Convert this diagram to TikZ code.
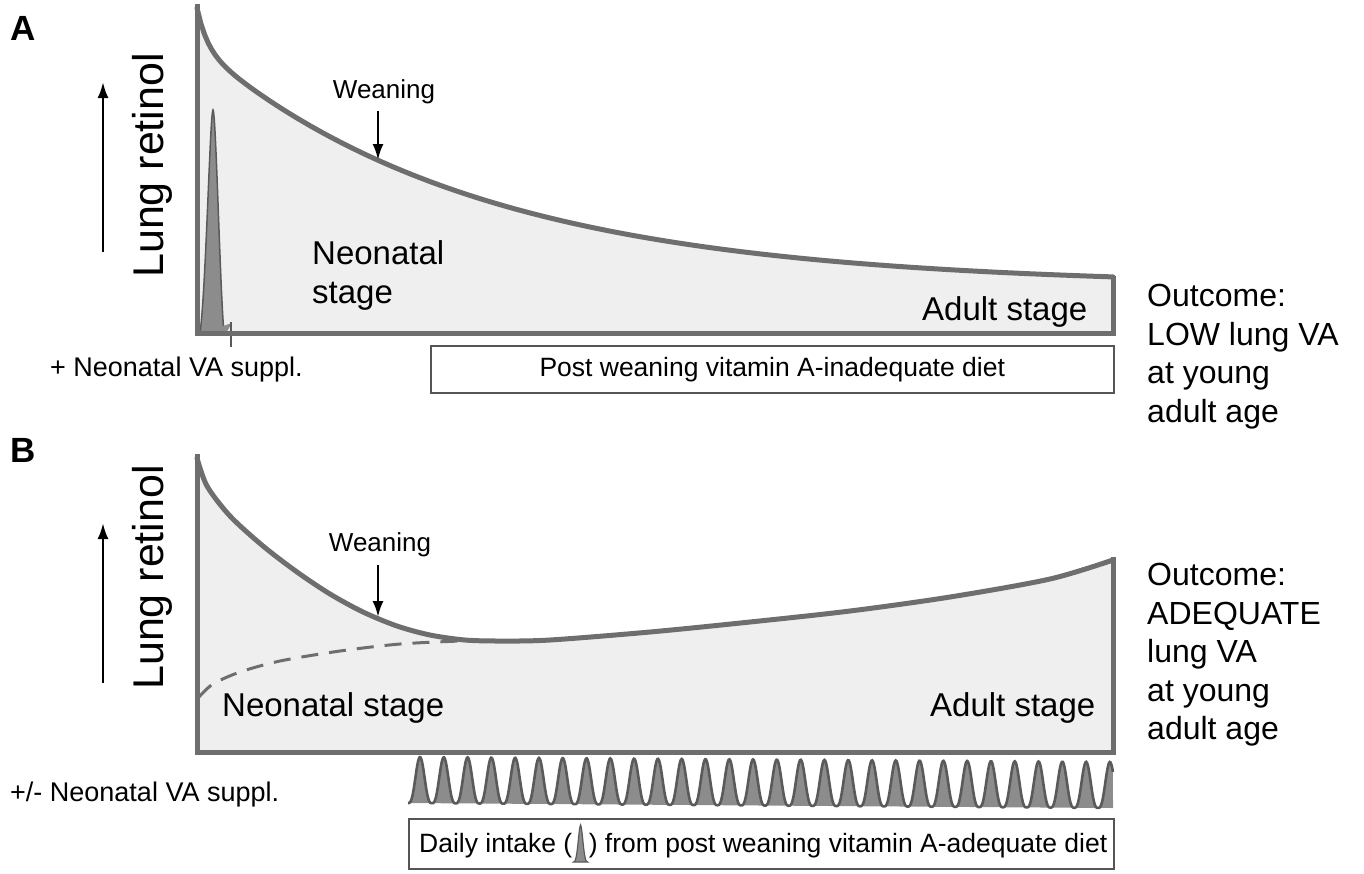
\documentclass[tikz,border=0pt]{standalone}
\usepackage{fontspec}
\setmainfont{Liberation Sans}
\usetikzlibrary{arrows.meta}
\definecolor{edgegray}{HTML}{6E6E6E}
\definecolor{fillgray}{HTML}{EFEFEF}
\definecolor{peakgray}{HTML}{8C8C8C}
\definecolor{peakedge}{HTML}{5A5A5A}
\definecolor{boxedge}{HTML}{555555}
\begin{document}
\begin{tikzpicture}[x=1pt,y=-1pt,
  declare function={cc(\t)=abs(cos(\t/2)); bump(\t)=cc(\t)*cc(\t)*cc(\t);
    ca(\x)=286-240*exp(-(\x-197)/280)-38*exp(-(\x-197)/10);},
  frame/.style={draw=edgegray,line width=5pt,line join=miter},
  curveline/.style={draw=edgegray,line width=5pt,line cap=round},
  dashline/.style={draw=edgegray,line width=3pt,dash pattern=on 17pt off 11pt},
  yarrow/.style={draw=black,line width=2.5pt,-{Latex[length=16pt,width=11pt]}},
  warrow/.style={draw=black,line width=2.5pt,-{Latex[length=16pt,width=11pt]}},
  peakfill/.style={fill=peakgray},
  peakline/.style={draw=peakedge,line width=2.6pt},
  dietbox/.style={draw=boxedge,line width=1.5pt,fill=white},
  lab/.style={inner sep=0pt,anchor=base west,font=\fontsize{33}{39}\selectfont},
  outc/.style={inner sep=0pt,anchor=base west,align=left,font=\fontsize{32}{38.5}\selectfont},
  supl/.style={inner sep=0pt,anchor=base west,font=\fontsize{27}{32}\selectfont},
  wean/.style={inner sep=0pt,anchor=base,font=\fontsize{26}{30}\selectfont},
  ylab/.style={inner sep=0pt,anchor=base west,rotate=90,font=\fontsize{43}{50}\selectfont},
  panel/.style={inner sep=0pt,anchor=base west,font=\fontsize{35}{40}\selectfont\bfseries},
  boxtxt/.style={inner sep=0pt,font=\fontsize{26.5}{30}\selectfont}
]
\useasboundingbox (0,0) rectangle (1364,873);

% ================= Panel A =================
\fill[fillgray] plot[domain=197:1113,samples=250] (\x,{ca(\x)})
  -- (1113,333) -- (197,333) -- cycle;
% neonatal spike
\filldraw[peakfill,draw=peakedge,line width=1.5pt] (200,333) .. controls (206,290) and (210,112) .. (213,110) .. controls (216,112) and (220,290) .. (224,333) -- cycle;
\fill[peakgray] (202,333) -- (232,323) -- (226,333) -- cycle;
\draw[peakedge,line width=1.5pt] (231,322) -- (231,347);
\draw[curveline] plot[domain=197:1113,samples=250] (\x,{ca(\x)});
\draw[frame] (197,4) -- (197,333) -- (1113,333) -- (1113,276);

\node[panel] (pA) at (10,40) {A};
\coordinate (ya0) at (103,252);
\coordinate (ya1) at (103,82);
\draw[yarrow] (ya0) -- (ya1);
\node[ylab] (ylA) at (163,278) {Lung retinol};
\node[wean] (wA) at (384,98) {Weaning};
\coordinate (wAt) at (378,160);
\draw[warrow] (378,111) -- (wAt);
\node[lab,align=left,anchor=north west] (neoA) at (312,240) {Neonatal\\stage};
\node[lab] (adA) at (922,320) {Adult stage};
\node[outc,anchor=north west] (outA) at (1147,284) {Outcome:\\LOW lung VA\\at young\\adult age};
\node[supl] (supA) at (50,376) {+ Neonatal VA suppl.};
\node[dietbox,minimum width=683pt,minimum height=47pt,anchor=north west,inner sep=0pt] (dietA) at (430,345) {};
\node[boxtxt] (dietAt) at (dietA.center) {Post weaning vitamin A-inadequate diet};

% ================= Panel B =================
\def\bcurve{(197,458) (207,486) (230,516) (263,546) (297,572) (330,594) (363,612) (397,626) (430,635) (465,640) (500,641) (550,640) (650,632) (750,622) (850,611) (950,597) (1050,579) (1113,560)}
\fill[fillgray] plot[smooth] coordinates {\bcurve}
  -- (1113,752) -- (197,752) -- cycle;
\draw[dashline] plot[smooth] coordinates {(199,697) (213,684) (240,672) (280,661) (340,651) (400,644) (460,641)};
\draw[curveline] plot[smooth] coordinates {\bcurve};
\draw[frame] (197,454) -- (197,752) -- (1113,752) -- (1113,557);

\node[panel] (pB) at (10,462) {B};
\coordinate (yb0) at (103,683);
\coordinate (yb1) at (103,523);
\draw[yarrow] (yb0) -- (yb1);
\node[ylab] (ylB) at (163,690) {Lung retinol};
\node[wean] (wB) at (380,551) {Weaning};
\coordinate (wBt) at (378,617);
\draw[warrow] (378,565) -- (wBt);
\node[lab] (neoB) at (222,716) {Neonatal stage};
\node[lab] (adB) at (930,716) {Adult stage};
\node[outc,anchor=north west] (outB) at (1147,563) {Outcome:\\ADEQUATE\\lung VA\\at young\\adult age};
\node[supl] (supB) at (10,801) {+/- Neonatal VA suppl.};

% daily intake peaks (parameter = peak index)
\fill[peakgray] plot[domain=-0.504:29.13,samples=900] ({420+23.79*\x},{803+5*(23.79*\x+12)/705-46*bump(360*\x)}) -- (1113,808) -- (408,803) -- cycle;
\draw[peakline] plot[domain=-0.504:29.13,samples=900] ({420+23.79*\x},{803+5*(23.79*\x+12)/705-46*bump(360*\x)});

\node[dietbox,minimum width=705pt,minimum height=50pt,anchor=north west,inner sep=0pt] (dietB) at (408,818) {};
\node[boxtxt,anchor=base west] (d1) at (419,852) {Daily intake (};
\coordinate (ic) at ([xshift=1pt]d1.base east);
\filldraw[peakfill,draw=peakedge,line width=1.2pt] ([xshift=0pt,yshift=-10pt]ic) .. controls ([xshift=4pt,yshift=-12pt]ic) and ([xshift=5pt,yshift=25pt]ic) .. ([xshift=7pt,yshift=27pt]ic) .. controls ([xshift=9pt,yshift=25pt]ic) and ([xshift=10pt,yshift=-12pt]ic) .. ([xshift=14pt,yshift=-10pt]ic) -- cycle;
\node[boxtxt,anchor=base west] (d2) at ([xshift=15pt]ic) {) from post weaning vitamin A-adequate diet};
\end{tikzpicture}
\end{document}
